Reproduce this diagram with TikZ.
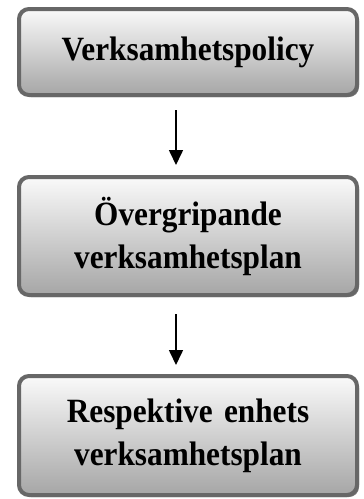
\documentclass[tikz,border=0pt]{standalone}
\usepackage{fontspec}
\setmainfont[FakeStretch=0.92]{Liberation Serif}
\usetikzlibrary{arrows.meta,shadows}
\definecolor{bordergray}{HTML}{676767}
\definecolor{shadowgray}{HTML}{7A7A7A}
\tikzset{
  flowbox/.style={draw=bordergray, line width=4pt, rounded corners=10pt,
    top color=white!98!black, bottom color=black!35,
    drop shadow={shadow xshift=2pt, shadow yshift=-2pt, fill=shadowgray, opacity=1},
    minimum width=338pt, text width=330pt, align=center,
    font=\fontsize{34}{43}\selectfont\bfseries, inner sep=0pt},
  flowarrow/.style={line width=1.6pt, -{Triangle[width=14pt,length=15pt]}}
}
\begin{document}
\begin{tikzpicture}[x=1pt,y=1pt]
\useasboundingbox (0,0) rectangle (364,-499);
\node[flowbox, minimum height=86pt] (b1) at (188,-52) {Verksamhetspolicy};
\node[flowbox, minimum height=118pt] (b2) at (188,-236) {Övergripande\\verksamhetsplan};
\node[flowbox, minimum height=119pt] (b3) at (188,-435.5) {Respektive enhets\\verksamhetsplan};
\draw[flowarrow, shorten <=13pt, shorten >=10pt] ([xshift=-12pt]b1.south) -- ([xshift=-12pt]b2.north);
\draw[flowarrow, shorten <=17pt, shorten >=9pt] ([xshift=-12pt]b2.south) -- ([xshift=-12pt]b3.north);
\end{tikzpicture}
\end{document}
